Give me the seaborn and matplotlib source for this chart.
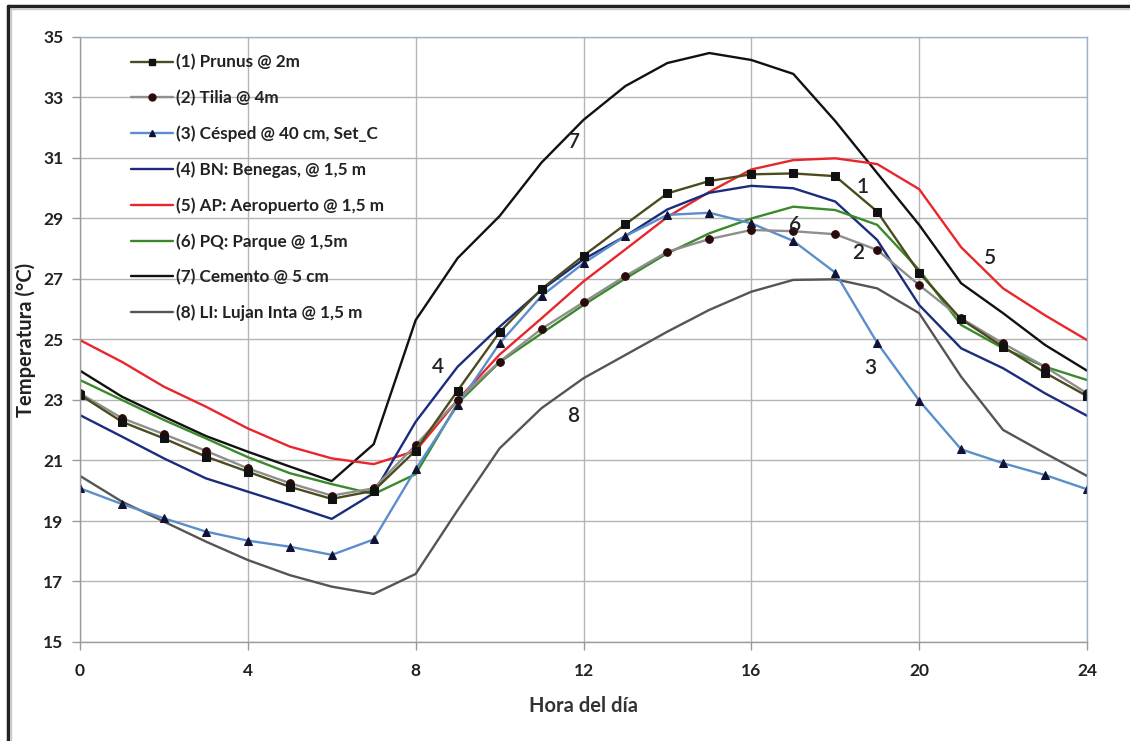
import numpy as np
import pandas as pd
import matplotlib
matplotlib.use("Agg")
import matplotlib.pyplot as plt
from matplotlib.lines import Line2D
import seaborn as sns

hours = list(range(25))

prunus = [23.17, 22.28, 21.73, 21.13, 20.63, 20.13, 19.73, 20.00, 21.33, 23.31,
          25.24, 26.67, 27.77, 28.81, 29.83, 30.24, 30.46, 30.49, 30.40, 29.23,
          27.21, 25.67, 24.76, 23.90, 23.13]
tilia = [23.22, 22.40, 21.87, 21.32, 20.74, 20.25, 19.84, 20.08, 21.51, 23.00,
         24.27, 25.35, 26.23, 27.10, 27.90, 28.32, 28.62, 28.58, 28.48, 27.96,
         26.80, 25.70, 24.87, 24.10, 23.22]
cesped = [20.08, 19.56, 19.09, 18.65, 18.35, 18.15, 17.88, 18.39, 20.71, 22.83,
          24.87, 26.44, 27.52, 28.42, 29.12, 29.19, 28.84, 28.26, 27.21, 24.89,
          22.98, 21.37, 20.91, 20.52, 20.05]
benegas = [22.50, 21.79, 21.07, 20.41, 19.97, 19.53, 19.07, 19.92, 22.28, 24.10,
           25.42, 26.64, 27.65, 28.42, 29.30, 29.85, 30.08, 30.00, 29.56, 28.29,
           26.14, 24.71, 24.05, 23.22, 22.48]
aeropuerto = [24.98, 24.26, 23.44, 22.78, 22.06, 21.46, 21.07, 20.88, 21.32, 23.00,
              24.50, 25.70, 26.92, 27.98, 29.05, 29.88, 30.62, 30.93, 30.99, 30.80,
              29.97, 28.05, 26.69, 25.80, 24.98]
parque = [23.66, 23.00, 22.34, 21.73, 21.11, 20.58, 20.22, 19.89, 20.55, 22.89,
          24.25, 25.20, 26.14, 27.02, 27.85, 28.51, 29.00, 29.39, 29.28, 28.79,
          27.30, 25.48, 24.71, 24.10, 23.66]
cemento = [23.97, 23.11, 22.45, 21.81, 21.29, 20.80, 20.32, 21.54, 25.64, 27.69,
           29.08, 30.85, 32.26, 33.38, 34.14, 34.47, 34.24, 33.78, 32.22, 30.50,
           28.79, 26.86, 25.87, 24.82, 23.97]
lujan = [20.49, 19.64, 18.98, 18.32, 17.71, 17.21, 16.83, 16.59, 17.25, 19.36,
         21.40, 22.73, 23.72, 24.49, 25.26, 25.98, 26.58, 26.97, 26.99, 26.69,
         25.87, 23.77, 22.01, 21.24, 20.49]

labels = ["(1) Prunus @ 2m", "(2) Tilia @ 4m", "(3) Césped @ 40 cm, Set_C",
          "(4) BN: Benegas, @ 1,5 m", "(5) AP: Aeropuerto @ 1,5 m",
          "(6) PQ: Parque @ 1,5m", "(7) Cemento @ 5 cm", "(8) LI: Lujan Inta @ 1,5 m"]
series = [prunus, tilia, cesped, benegas, aeropuerto, parque, cemento, lujan]
tags = ["1", "2", "3", "4", "5", "6", "7", "8"]
tag_pos = [(18.64, 30.04), (18.54, 27.86), (18.83, 24.06), (8.53, 24.09),
           (21.69, 27.69), (17.04, 28.79), (11.77, 31.53), (11.75, 22.47)]

colors = ["#4b4b1e", "#8e8e8e", "#5b8fcc", "#1c2c7c", "#e8262c",
          "#3a8a2c", "#111111", "#555555"]
markers = ["s", "o", "^", None, None, None, None, None]
marker_colors = ["#111111", "#2a0a0a", "#111133", None, None, None, None, None]

sns.set_theme(style="white")
plt.rcParams["font.family"] = ["Lato", "DejaVu Sans"]

fig = plt.figure(figsize=(11.30, 7.41), dpi=100)
ax = fig.add_axes([80 / 1130, 1 - 642 / 741, 1007 / 1130, 605 / 741])

order = [7, 6, 4, 3, 5, 2, 1, 0]
handles = {}
for i in order:
    df = pd.DataFrame({"hora": hours, "temp": series[i]})
    kw = dict(x="hora", y="temp", data=df, ax=ax, color=colors[i], linewidth=1.7)
    if markers[i]:
        kw.update(marker=markers[i], markersize=5.5,
                  markerfacecolor=marker_colors[i], markeredgecolor=marker_colors[i])
    sns.lineplot(**kw)
    handles[i] = Line2D([], [], color=colors[i], linewidth=1.7,
                        marker=markers[i] if markers[i] else None, markersize=5,
                        markerfacecolor=marker_colors[i], markeredgecolor=marker_colors[i])

for t, (x, y) in zip(tags, tag_pos):
    ax.text(x, y, t, fontsize=15, color="#222222", ha="center", va="center",
            fontweight="semibold")

ax.set_xlim(0, 24)
ax.set_ylim(15, 35)
ax.set_xticks(range(0, 25, 4))
ax.set_yticks(range(15, 36, 2))
ax.grid(True, color="#b4b4b4", linewidth=1.0)
ax.tick_params(axis="both", direction="out", length=6, width=1, color="#9a9a9a",
               labelsize=12.5, pad=6, bottom=True, left=True)
for lab in ax.get_xticklabels() + ax.get_yticklabels():
    lab.set_fontweight("bold")
    lab.set_color("#222222")
ax.tick_params(axis="x", pad=9)

for side in ["left", "bottom"]:
    ax.spines[side].set_color("#9a9a9a")
for side in ["right", "top"]:
    ax.spines[side].set_color("#9ab4cc")
for s in ax.spines.values():
    s.set_linewidth(1.0)

ax.set_xlabel("Hora del día", fontsize=14.5, fontweight="bold", color="#333333", labelpad=12)
ax.set_ylabel("Temperatura (°C)", fontsize=14.5, fontweight="bold", color="#222222", labelpad=5)

leg = ax.legend([handles[i] for i in range(8)], labels, loc="upper left",
                bbox_to_anchor=(0.035, 0.997), frameon=False, fontsize=12.3,
                handlelength=2.5, handletextpad=0.15, labelspacing=1.13)
for txt in leg.get_texts():
    txt.set_fontweight("bold")
    txt.set_color("#222222")

# outer page border along the left and top edges
fig.add_artist(Line2D([8 / 1130, 8 / 1130], [0, 1 - 6 / 741], transform=fig.transFigure,
                      color="#222222", linewidth=2.5))
fig.add_artist(Line2D([8 / 1130, 1], [1 - 6 / 741, 1 - 6 / 741], transform=fig.transFigure,
                      color="#222222", linewidth=2.5))
fig.add_artist(Line2D([11 / 1130, 11 / 1130], [0, 1 - 9 / 741], transform=fig.transFigure,
                      color="#c8c8c8", linewidth=1.0))
fig.add_artist(Line2D([11 / 1130, 1], [1 - 9 / 741, 1 - 9 / 741], transform=fig.transFigure,
                      color="#c8c8c8", linewidth=1.0))

fig.savefig("out.png", dpi=100)
